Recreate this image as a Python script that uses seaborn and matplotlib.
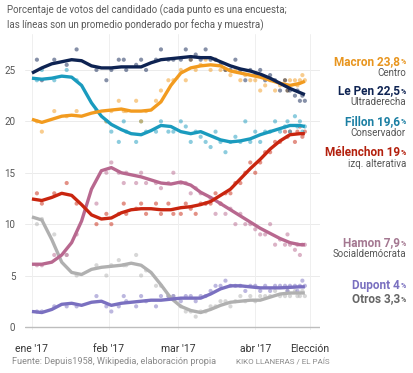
import matplotlib
matplotlib.use("Agg")
import matplotlib.pyplot as plt
import seaborn as sns
import pandas as pd
import numpy as np

# ---------------- data ----------------
# days since 1 Jan 2017
line_days = [0, 4, 8, 12, 16, 20, 24, 28, 32, 36, 40, 44, 48, 52, 56, 60, 64, 68, 72, 76,
             80, 84, 88, 92, 96, 100, 104, 108, 110]
macron_line = [20.2, 19.9, 20.2, 20.5, 20.6, 20.5, 20.8, 21.0, 21.1, 21.2, 21.0, 21.0, 21.1, 21.9, 23.5,
               24.7, 25.2, 25.4, 25.5, 25.4, 24.9, 24.7, 24.5, 24.3, 24.0, 23.7, 23.5, 23.7, 23.9]
lepen_line = [24.7, 25.2, 25.6, 25.8, 26.0, 25.9, 25.4, 25.2, 25.2, 25.3, 25.3, 25.3, 25.7, 26.0, 26.1,
              26.2, 26.3, 26.2, 26.2, 25.8, 25.4, 25.1, 24.9, 24.6, 24.2, 23.7, 23.2, 22.8, 22.6]
fillon_line = [24.2, 24.1, 24.2, 24.4, 24.3, 23.5, 21.8, 20.5, 19.7, 19.2, 18.8, 18.7, 19.1, 19.6, 19.5,
               19.0, 18.8, 19.0, 18.6, 18.2, 18.0, 18.1, 18.3, 18.7, 19.0, 19.3, 19.6, 19.6, 19.5]
melenchon_line = [12.45, 12.3, 12.6, 13.0, 12.8, 11.9, 10.9, 10.5, 10.6, 11.1, 11.4, 11.5, 11.5, 11.4, 11.4,
                  11.6, 11.7, 11.9, 12.2, 12.8, 13.4, 14.4, 15.4, 16.3, 17.3, 18.1, 18.7, 18.8, 18.8]
hamon_line = [6.1, 6.1, 6.3, 7.0, 8.2, 10.3, 13.4, 15.2, 15.5, 15.0, 14.8, 14.6, 14.3, 14.0, 13.9,
              14.1, 13.8, 13.1, 12.6, 12.0, 11.4, 10.8, 10.2, 9.6, 9.1, 8.6, 8.2, 8.0, 8.0]
otros_line = [10.7, 10.4, 8.5, 6.3, 5.3, 5.1, 5.6, 5.8, 5.9, 6.0, 6.2, 6.0, 5.3, 4.1, 2.8,
              2.0, 1.6, 1.4, 1.7, 2.1, 2.4, 2.5, 2.6, 2.6, 2.9, 3.2, 3.3, 3.3, 3.3]
dupont_line = [1.5, 1.4, 1.7, 2.2, 2.3, 2.1, 2.4, 2.5, 2.1, 2.3, 2.4, 2.5, 2.6, 2.6, 2.7,
               2.8, 2.8, 2.8, 3.2, 3.7, 4.0, 4.0, 3.9, 3.8, 3.8, 3.8, 3.85, 3.9, 3.9]

poll_days = [2, 4, 9, 14, 18, 26, 30, 32, 35, 37, 38, 42, 44, 46, 50, 52, 55, 57, 60, 62,
             64, 66, 68, 70, 72, 74, 76, 78, 80, 82, 84, 86, 88, 90, 92, 94, 96, 98, 100, 102,
             103, 104, 106, 107, 108, 109, 110]
lepen_polls = [26, 24, 26, 25.5, 27, 25, 24, 25, 26, 26, 25, 25.5, 26, 25, 26, 27, 26, 26, 26, 27,
               26, 26.5, 26, 27, 26, 26, 25.5, 25, 25, 26, 25, 24, 25, 24.5, 25, 24, 24.5, 24, 23, 24,
               23, 23, 22.5, 23, 22, 22.5, 22]
macron_polls = [20, 19, 21, 20.5, 21, 21, 20, 21, 22, 21, 21, 22, 20, 21, 22, 23, 24, 24, 25, 24,
                26, 25, 25.5, 26, 25, 26, 25, 25, 24.5, 25, 24, 24.5, 24, 24, 23, 23.5, 24, 23, 23.5, 24,
                23, 24, 24, 23.5, 24, 24.5, 24]
fillon_polls = [24, 25, 24, 25, 24, 21, 20, 19, 18, 20, 19, 18, 20, 19, 19, 20, 19, 19, 20, 19.5,
                18, 19, 18.5, 18, 17.5, 19, 18, 17, 18, 18.5, 18, 20, 18, 19, 18, 19, 19, 20, 19, 19.5,
                20, 19, 20.5, 19.5, 20, 19, 19.5]
melenchon_polls = [13, 12, 13, 14, 12, 10, 11, 10, 11, 12, 11, 11.5, 12, 11, 12, 11, 12, 11, 11, 12,
                   11.5, 11, 12, 12, 12, 13, 12, 13, 13, 14, 14, 15, 16, 15, 16, 17, 17, 18, 18, 19,
                   18.5, 19, 18, 19, 19.5, 18.5, 19]
hamon_polls = [6, 6, 7, 7, 9, 12, 15, 16, 15, 14, 15, 14, 15, 14, 14, 13.5, 14, 15, 14, 14,
               13, 13.5, 13, 12, 12.5, 11, 12, 11, 11.5, 10, 11, 10, 10, 9.5, 9, 9, 10, 8, 8.5, 8,
               9, 8, 7.5, 8, 7, 8, 8]
otros_polls = [10, 10.5, 9, 7, 5, 6, 5, 6, 6.5, 6, 6, 7, 5, 5.5, 4, 4, 3, 3, 2, 1.5,
               1.5, 1, 1.5, 1.5, 2, 2, 2.5, 2.5, 2, 2.5, 3, 2.5, 3, 2.5, 3, 3, 3, 3.5, 3, 3,
               3.5, 3, 3.5, 3, 3, 3.5, 3]
dupont_polls = [1.5, 1.5, 2, 2, 2, 3, 2, 1.5, 2, 3, 2.5, 2, 3, 2.5, 2, 3, 3, 3, 2.5, 3,
                3, 2.5, 3, 3, 3.5, 4, 4, 4.5, 4, 4, 4, 3.5, 4, 4, 3.5, 4, 3.5, 4, 4, 4,
                3.5, 4, 4, 3.5, 4, 4.5, 4]

candidates = ["Otros", "Dupont", "Hamon", "Mélenchon", "Fillon", "Macron", "Le Pen"]
line_vals = {"Macron": macron_line, "Le Pen": lepen_line, "Fillon": fillon_line,
             "Mélenchon": melenchon_line, "Hamon": hamon_line, "Otros": otros_line,
             "Dupont": dupont_line}
poll_vals = {"Macron": macron_polls, "Le Pen": lepen_polls, "Fillon": fillon_polls,
             "Mélenchon": melenchon_polls, "Hamon": hamon_polls, "Otros": otros_polls,
             "Dupont": dupont_polls}
colors = {"Macron": "#F29B1F", "Le Pen": "#0E2352", "Fillon": "#1A9BBE",
          "Mélenchon": "#C9250F", "Hamon": "#B8688F", "Otros": "#B0B0B0",
          "Dupont": "#7A70C0"}

tick_days = [0, 31, 59, 90, 112]
tick_labels = ["ene '17", "feb '17", "mar '17", "abr '17", "Elección"]
y_ticks = [0, 5, 10, 15, 20, 25]

labels = [("Macron", "23,8", "Centro", "#E8951E", 61.5, 73),
          ("Le Pen", "22,5", "Ultraderecha", "#0E2352", 90.5, 102),
          ("Fillon", "19,6", "Conservador", "#1B7FA3", 121.5, 133),
          ("Mélenchon", "19", "izq. alterativa", "#B3200D", 152, 164),
          ("Hamon", "7,9", "Socialdemócrata", "#A47891", 242.5, 254),
          ("Dupont", "4", None, "#7A70C0", 285, None),
          ("Otros", "3,3", None, "#666666", 299, None)]

# ---------------- build frames ----------------
lines_df = pd.concat([pd.DataFrame({"day": line_days, "v": line_vals[c], "cand": c}) for c in candidates])
polls_df = pd.concat([pd.DataFrame({"day": poll_days, "v": poll_vals[c], "cand": c}) for c in candidates])

sns.set_style("white")
plt.rcParams["font.family"] = ["Roboto", "DejaVu Sans"]

W, H = 414, 373
fig = plt.figure(figsize=(W / 100, H / 100), dpi=100)
ax = fig.add_axes([25 / W, (H - 330) / H, 295 / W, 296 / H])

for y in y_ticks[1:]:
    ax.axhline(y, color="#EBEBEB", lw=0.7, zorder=0)
for d in tick_days:
    ax.axvline(d, color="#EFEFEF", lw=0.7, zorder=0)
ax.axhline(0, color="#BDBDBD", lw=1.0, zorder=1)

sns.scatterplot(data=polls_df, x="day", y="v", hue="cand", palette=colors,
                hue_order=candidates, s=9, alpha=0.5, linewidth=0, legend=False, ax=ax, zorder=2)
for c in candidates:
    sns.lineplot(data=lines_df[lines_df.cand == c], x="day", y="v", color=colors[c],
                 lw=2.4, ax=ax, legend=False, zorder=3, solid_capstyle="butt",
                 solid_joinstyle="round")

ax.set_xlim(-2.8, 116.1)
ax.set_ylim(-0.3, 28.5)
ax.set_xticks(tick_days)
ax.set_xticklabels(tick_labels)
ax.set_yticks(y_ticks)
ax.set_yticklabels([str(v) for v in y_ticks])
ax.tick_params(axis="x", length=0, pad=10, labelsize=7.5, colors="#333333")
ax.tick_params(axis="y", length=0, pad=7, labelsize=7, colors="#555555")
ax.set_xlabel("")
ax.set_ylabel("")
for s in ax.spines.values():
    s.set_visible(False)

def fy(py):
    return 1 - py / H

fig.text(7 / W, fy(10), "Porcentaje de votos del candidado (cada punto es una encuesta;",
         fontsize=7, color="#5a5a5a", va="center", ha="left")
fig.text(7 / W, fy(25), "las líneas son un promedio ponderado por fecha y muestra)",
         fontsize=7, color="#5a5a5a", va="center", ha="left")

fig.canvas.draw()
renderer = fig.canvas.get_renderer()
right = 406
for name, val, sub, col, py, psub in labels:
    pct = fig.text(right / W, fy(py + 1), "%", fontsize=5, color=col, weight="bold",
                   ha="right", va="center")
    wpct = pct.get_window_extent(renderer).width
    fig.text((right - wpct - 0.5) / W, fy(py), f"{name} {val}", fontsize=8.5, color=col,
             weight="bold", ha="right", va="center")
    if sub:
        fig.text(right / W, fy(psub), sub, fontsize=7, color="#555555", ha="right", va="center")

fig.text(12 / W, fy(362), "Fuente: Depuis1958, Wikipedia, elaboración propia",
         fontsize=6.6, color="#8a8a8a", ha="left", va="center")
fig.text(236 / W, fy(362), "KIKO LLANERAS / EL PAÍS",
         fontsize=5.8, color="#8a8a8a", ha="left", va="center")

fig.savefig("out.png", dpi=100)
